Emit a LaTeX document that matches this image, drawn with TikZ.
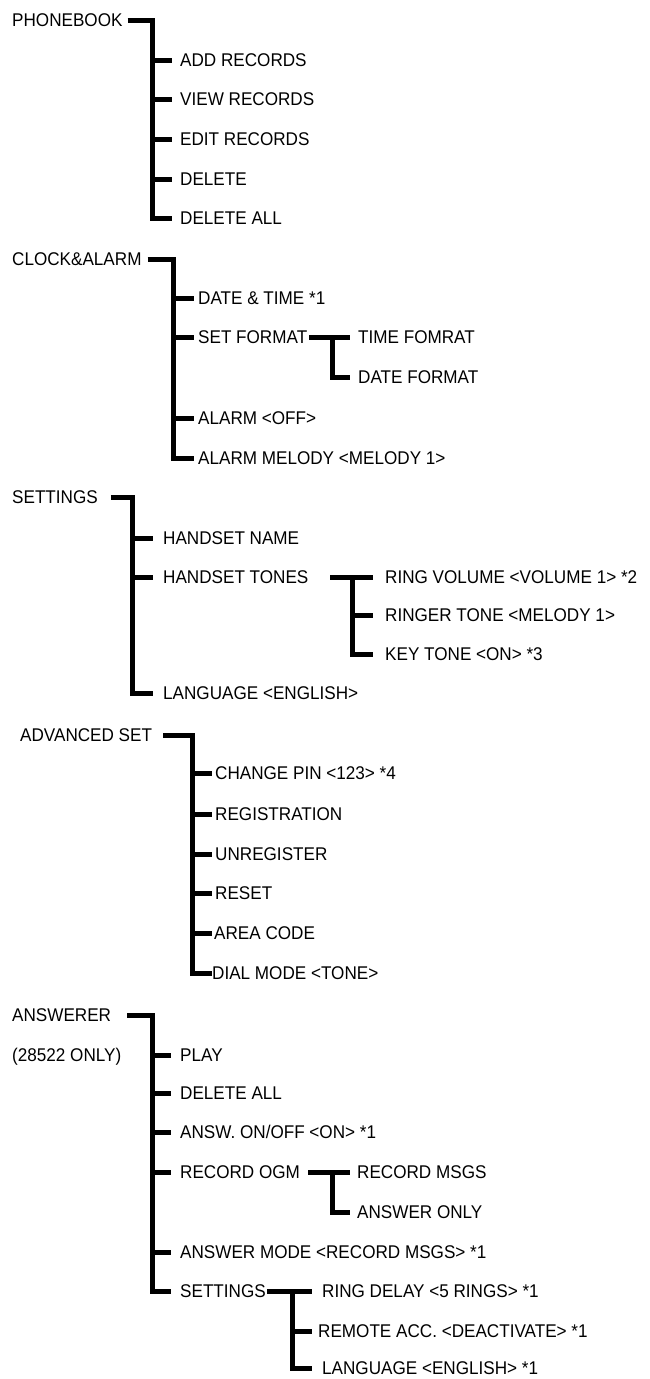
\documentclass[tikz,border=0pt]{standalone}
\usepackage{fontspec}
\setmainfont{Liberation Sans}
\newfontfamily\lbfamily[FakeStretch=0.93]{Liberation Sans}
\newcommand{\lbfont}{\lbfamily\fontsize{18.4pt}{21pt}\selectfont}
\tikzset{
  lbl/.style={anchor=west, inner sep=0pt, text height=13.2pt, text depth=0pt, font=\lbfont},
  br/.style={line width=5pt, line join=miter, black}
}
\begin{document}
\begin{tikzpicture}[x=1pt,y=-1pt]
\fill[white] (0,0) rectangle (649,1379);
\useasboundingbox (0,0) rectangle (649,1379);

% ---------- PHONEBOOK ----------
\node[lbl] (pb) at (12,20) {PHONEBOOK};
\node[lbl] (pb1) at (180,60) {ADD RECORDS};
\node[lbl] (pb2) at (180,99) {VIEW RECORDS};
\node[lbl] (pb3) at (180,139) {EDIT RECORDS};
\node[lbl] (pb4) at (180,179) {DELETE};
\node[lbl] (pb5) at (180,218) {DELETE ALL};
\coordinate (v1) at (152,0);
\draw[br] ([xshift=5pt]pb.east) -| (v1 |- pb5.west) -- ([xshift=-8pt]pb5.west);
\foreach \c in {pb1,pb2,pb3,pb4}
  \draw[br] (v1 |- \c.west) -- ([xshift=-8pt]\c.west);

% ---------- CLOCK&ALARM ----------
\node[lbl] (ca) at (12,259) {CLOCK\&ALARM};
\node[lbl] (ca1) at (198,298) {DATE \& TIME *1};
\node[lbl] (ca2) at (198,337) {SET FORMAT};
\node[lbl] (ca3) at (198,418) {ALARM <OFF>};
\node[lbl] (ca4) at (198,458) {ALARM MELODY <MELODY 1>};
\node[lbl] (sf1) at (358,337) {TIME FOMRAT};
\node[lbl] (sf2) at (358,377) {DATE FORMAT};
\coordinate (v2) at (173,0);
\coordinate (v2b) at (332,0);
\draw[br] ([xshift=6pt]ca.east) -| (v2 |- ca4.west) -- ([xshift=-4pt]ca4.west);
\foreach \c in {ca1,ca2,ca3}
  \draw[br] (v2 |- \c.west) -- ([xshift=-4pt]\c.west);
\draw[br] ([xshift=2pt]ca2.east) -- ([xshift=-8pt]sf1.west);
\draw[br] (v2b |- sf1.west) -- (v2b |- sf2.west) -- ([xshift=-8pt]sf2.west);

% ---------- SETTINGS ----------
\node[lbl] (st) at (12,497) {SETTINGS};
\node[lbl] (st1) at (163,538) {HANDSET NAME};
\node[lbl] (st2) at (163,577) {HANDSET TONES};
\node[lbl] (st3) at (163,693) {LANGUAGE <ENGLISH>};
\node[lbl] (ht1) at (385,577) {RING VOLUME <VOLUME 1> *2};
\node[lbl] (ht2) at (385,615) {RINGER TONE <MELODY 1>};
\node[lbl] (ht3) at (385,654) {KEY TONE <ON> *3};
\coordinate (v3) at (132,0);
\coordinate (v3b) at (352,0);
\coordinate (h3) at (330,0);
\draw[br] ([xshift=13pt]st.east) -| (v3 |- st3.west) -- ([xshift=-10pt]st3.west);
\foreach \c in {st1,st2}
  \draw[br] (v3 |- \c.west) -- ([xshift=-10pt]\c.west);
\draw[br] (h3 |- st2.east) -- ([xshift=-12pt]ht1.west);
\draw[br] (v3b |- ht1.west) -- (v3b |- ht3.west) -- ([xshift=-12pt]ht3.west);
\draw[br] (v3b |- ht2.west) -- ([xshift=-12pt]ht2.west);

% ---------- ADVANCED SET ----------
\node[lbl] (as) at (20,735) {ADVANCED SET};
\node[lbl] (as1) at (215,773) {CHANGE PIN <123> *4};
\node[lbl] (as2) at (215,814) {REGISTRATION};
\node[lbl] (as3) at (215,854) {UNREGISTER};
\node[lbl] (as4) at (215,893) {RESET};
\node[lbl] (as5) at (214,933) {AREA CODE};
\node[lbl] (as6) at (212,973) {DIAL MODE <TONE>};
\coordinate (v4) at (192,0);
\coordinate (e4) at (212,0);
\draw[br] ([xshift=11pt]as.east) -| (v4 |- as6.west) -- (as6.west);
\foreach \c in {as1,as2,as3,as4,as5}
  \draw[br] (v4 |- \c.west) -- (e4 |- \c.west);

% ---------- ANSWERER ----------
\node[lbl] (an) at (12,1015) {ANSWERER};
\node[lbl] (an0) at (12,1055) {(28522 ONLY)};
\node[lbl] (an1) at (180,1055) {PLAY};
\node[lbl] (an2) at (180,1093) {DELETE ALL};
\node[lbl] (an3) at (180,1132) {ANSW. ON/OFF <ON> *1};
\node[lbl] (an4) at (180,1172) {RECORD OGM};
\node[lbl] (an5) at (180,1252) {ANSWER MODE <RECORD MSGS> *1};
\node[lbl] (an6) at (180,1291) {SETTINGS};
\node[lbl] (ro1) at (357,1172) {RECORD MSGS};
\node[lbl] (ro2) at (357,1212) {ANSWER ONLY};
\node[lbl] (se1) at (322,1291) {RING DELAY <5 RINGS> *1};
\node[lbl] (se2) at (318,1331) {REMOTE ACC. <DEACTIVATE> *1};
\node[lbl] (se3) at (322,1368) {LANGUAGE <ENGLISH> *1};
\coordinate (v5) at (152,0);
\coordinate (e5) at (171,0);
\coordinate (v5b) at (332,0);
\coordinate (e5b) at (350,0);
\coordinate (v5c) at (292,0);
\coordinate (e5c) at (312,0);
\draw[br] ([xshift=16pt]an.east) -| (v5 |- an6.west) -- (e5 |- an6.west);
\foreach \c in {an1,an2,an3,an4,an5}
  \draw[br] (v5 |- \c.west) -- (e5 |- \c.west);
\draw[br] ([xshift=8pt]an4.east) -- (e5b |- ro1.west);
\draw[br] (v5b |- ro1.west) -- (v5b |- ro2.west) -- (e5b |- ro2.west);
\draw[br] ([xshift=1pt]an6.east) -- (e5c |- se1.west);
\draw[br] (v5c |- se1.west) -- (v5c |- se3.west) -- (e5c |- se3.west);
\draw[br] (v5c |- se2.west) -- (e5c |- se2.west);
\end{tikzpicture}
\end{document}
